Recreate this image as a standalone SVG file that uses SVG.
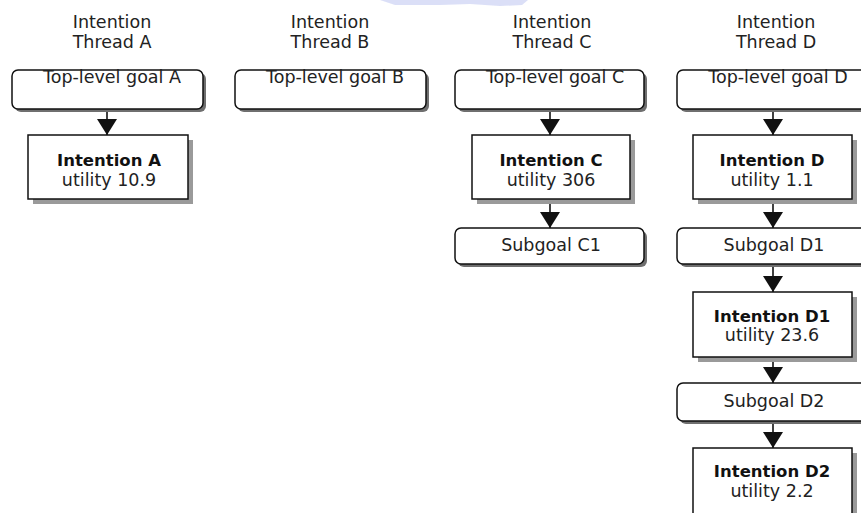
<svg xmlns="http://www.w3.org/2000/svg" width="861" height="513" viewBox="0 0 861 513">
  <defs>
    <style>
      .bg { fill: #ffffff; }
      .rbox { fill: #ffffff; stroke: #111111; stroke-width: 1.5; }
      .ibox { fill: #ffffff; stroke: #111111; stroke-width: 1.5; }
      .rshadow { fill: #6f6f6f; }
      .ishadow { fill: #9a9a9a; }
      .t { font-family: "DejaVu Sans", "Liberation Sans", sans-serif; font-size: 17.5px; fill: #222222; text-anchor: middle; }
      .b { font-family: "DejaVu Sans", "Liberation Sans", sans-serif; font-size: 16.5px; font-weight: bold; fill: #111111; text-anchor: middle; }
      .conn { stroke: #111111; stroke-width: 1.6; fill: none; marker-end: url(#head); }
    </style>
    <marker id="head" markerUnits="userSpaceOnUse" markerWidth="17" markerHeight="21" refX="16" refY="10" orient="auto">
      <path d="M0,0 L16,10 L0,20 Z" fill="#111111"/>
    </marker>
  </defs>

  <rect class="bg" x="0" y="0" width="861" height="513"/>

  <!-- faint tint band along the top edge -->
  <path d="M380,0 L528,0 L522,5 L500,6 L470,4 L440,5 L395,5 Z" fill="#c3caf2" opacity="0.6"/>

  <!-- thread headings -->
  <g id="heading-a">
    <text class="t" x="112" y="28">Intention</text>
    <text class="t" x="112" y="48">Thread A</text>
  </g>
  <g id="heading-b">
    <text class="t" x="330" y="28">Intention</text>
    <text class="t" x="330" y="48">Thread B</text>
  </g>
  <g id="heading-c">
    <text class="t" x="552" y="28">Intention</text>
    <text class="t" x="552" y="48">Thread C</text>
  </g>
  <g id="heading-d">
    <text class="t" x="776" y="28">Intention</text>
    <text class="t" x="776" y="48">Thread D</text>
  </g>

  <!-- connectors -->
  <g id="connectors">
    <line class="conn" x1="107" y1="109" x2="107" y2="135"/>
    <line class="conn" x1="550" y1="109" x2="550" y2="135"/>
    <line class="conn" x1="550" y1="199" x2="550" y2="228"/>
    <line class="conn" x1="773" y1="109" x2="773" y2="135"/>
    <line class="conn" x1="773" y1="199" x2="773" y2="228"/>
    <line class="conn" x1="773" y1="264" x2="773" y2="292"/>
    <line class="conn" x1="773" y1="357" x2="773" y2="383"/>
    <line class="conn" x1="773" y1="421" x2="773" y2="448"/>
  </g>

  <!-- thread A -->
  <g id="goal-a">
    <rect class="rshadow" x="15" y="73" width="191" height="39" rx="6"/>
    <rect class="rbox" x="12" y="70" width="191" height="39" rx="6"/>
    <text class="t" x="112" y="83">Top-level goal A</text>
  </g>
  <g id="intention-a">
    <rect class="ishadow" x="33" y="140" width="160" height="64"/>
    <rect class="ibox" x="28" y="135" width="160" height="64"/>
    <text class="b" x="109" y="166">Intention A</text>
    <text class="t" x="109" y="186">utility 10.9</text>
  </g>

  <!-- thread B -->
  <g id="goal-b">
    <rect class="rshadow" x="238" y="73" width="191" height="39" rx="6"/>
    <rect class="rbox" x="235" y="70" width="191" height="39" rx="6"/>
    <text class="t" x="335" y="83">Top-level goal B</text>
  </g>

  <!-- thread C -->
  <g id="goal-c">
    <rect class="rshadow" x="458" y="73" width="189" height="39" rx="6"/>
    <rect class="rbox" x="455" y="70" width="189" height="39" rx="6"/>
    <text class="t" x="555" y="83">Top-level goal C</text>
  </g>
  <g id="intention-c">
    <rect class="ishadow" x="477" y="140" width="158" height="64"/>
    <rect class="ibox" x="472" y="135" width="158" height="64"/>
    <text class="b" x="551" y="166">Intention C</text>
    <text class="t" x="551" y="186">utility 306</text>
  </g>
  <g id="subgoal-c1">
    <rect class="rshadow" x="458" y="231" width="189" height="36" rx="6"/>
    <rect class="rbox" x="455" y="228" width="189" height="36" rx="6"/>
    <text class="t" x="551" y="251">Subgoal C1</text>
  </g>

  <!-- thread D -->
  <g id="goal-d">
    <rect class="rshadow" x="680" y="73" width="191" height="39" rx="6"/>
    <rect class="rbox" x="677" y="70" width="191" height="39" rx="6"/>
    <text class="t" x="778" y="83">Top-level goal D</text>
  </g>
  <g id="intention-d">
    <rect class="ishadow" x="698" y="140" width="159" height="64"/>
    <rect class="ibox" x="693" y="135" width="159" height="64"/>
    <text class="b" x="772" y="166">Intention D</text>
    <text class="t" x="772" y="186">utility 1.1</text>
  </g>
  <g id="subgoal-d1">
    <rect class="rshadow" x="680" y="231" width="191" height="36" rx="6"/>
    <rect class="rbox" x="677" y="228" width="191" height="36" rx="6"/>
    <text class="t" x="774" y="251">Subgoal D1</text>
  </g>
  <g id="intention-d1">
    <rect class="ishadow" x="698" y="297" width="159" height="65"/>
    <rect class="ibox" x="693" y="292" width="159" height="65"/>
    <text class="b" x="772" y="322">Intention D1</text>
    <text class="t" x="772" y="341">utility 23.6</text>
  </g>
  <g id="subgoal-d2">
    <rect class="rshadow" x="680" y="386" width="191" height="38" rx="6"/>
    <rect class="rbox" x="677" y="383" width="191" height="38" rx="6"/>
    <text class="t" x="774" y="407">Subgoal D2</text>
  </g>
  <g id="intention-d2">
    <rect class="ishadow" x="698" y="453" width="159" height="70"/>
    <rect class="ibox" x="693" y="448" width="159" height="70"/>
    <text class="b" x="772" y="477">Intention D2</text>
    <text class="t" x="772" y="497">utility 2.2</text>
  </g>
</svg>
